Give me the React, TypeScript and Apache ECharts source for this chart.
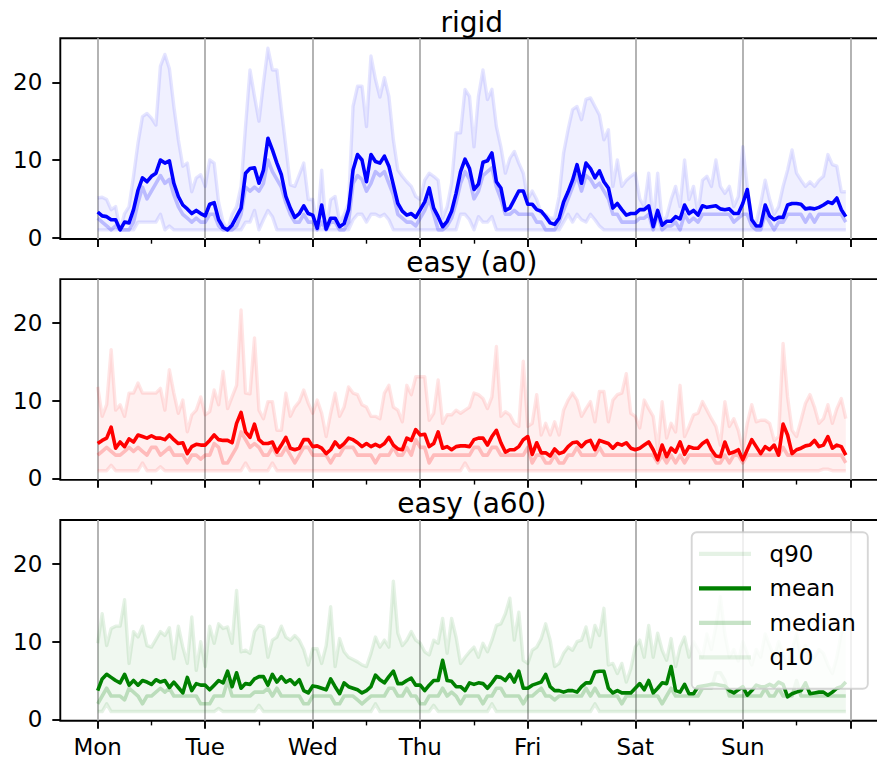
import React, { useEffect, useRef } from 'react';
import * as echarts from 'echarts';

const DAY_LABELS = ['Mon', 'Tue', 'Wed', 'Thu', 'Fri', 'Sat', 'Sun'];
const PANEL_TITLES = ['rigid', 'easy (a0)', 'easy (a60)'];
const LEGEND_NAMES = ['q90', 'mean', 'median', 'q10'];

// ---------- rigid (hourly, Mon 00:00 .. Sun 23:00) ----------
const RIGID_MEAN = [
  3.3, 2.8, 2.7, 2.3, 2.3, 1.0, 2.0, 1.9, 3.6, 6.1,
  7.7, 7.2, 7.9, 8.3, 10.0, 9.6, 9.9, 7.0, 5.3, 4.2,
  3.7, 3.1, 3.5, 3.1, 2.8, 4.3, 4.5, 2.3, 1.3, 1.0,
  1.6, 2.7, 3.8, 8.3, 8.9, 9.0, 7.0, 8.7, 12.8, 11.3,
  9.6, 8.1, 5.3, 3.8, 2.6, 3.1, 4.1, 3.1, 2.9, 1.2,
  4.2, 1.1, 2.5, 2.5, 1.4, 1.8, 3.6, 8.7, 10.7, 10.0,
  7.2, 10.7, 9.8, 9.6, 10.5, 9.2, 6.8, 4.4, 3.4, 2.9,
  3.1, 2.6, 3.6, 4.6, 6.4, 3.8, 2.7, 1.4, 2.1, 3.4,
  5.7, 8.5, 10.1, 8.9, 6.2, 6.9, 9.7, 9.9, 10.9, 7.2,
  6.4, 3.5, 3.8, 4.9, 6.0, 6.0, 4.3, 4.3, 3.6, 3.4,
  2.7, 1.9, 1.7, 2.5, 4.6, 5.9, 7.4, 9.4, 7.0, 9.6,
  8.9, 7.7, 8.6, 7.2, 6.4, 3.8, 4.4, 3.6, 2.9, 3.1,
  3.1, 3.6, 3.6, 4.1, 1.4, 3.5, 1.6, 2.1, 2.1, 2.7,
  2.4, 4.2, 3.1, 3.5, 2.9, 4.1, 3.9, 4.0, 4.1, 3.7,
  3.6, 3.7, 3.1, 3.1, 4.4, 6.2, 2.3, 1.5, 1.5, 4.2,
  2.8, 2.3, 2.6, 2.6, 4.2, 4.4, 4.4, 4.3, 3.7, 3.8,
  3.7, 3.9, 4.2, 4.6, 4.4, 5.1, 3.6, 2.7,
];
const RIGID_Q90 = [
  5.1, 5.2, 4.9, 3.6, 4.0, 1.0, 3.1, 4.0, 7.9, 12.2,
  15.6, 16.0, 15.4, 14.5, 22.1, 23.6, 21.8, 16.9, 12.6, 9.2,
  9.6, 5.9, 7.7, 8.1, 6.6, 10.0, 9.6, 4.5, 2.0, 1.0,
  3.0, 4.0, 6.6, 14.3, 21.6, 18.2, 15.0, 19.9, 24.4, 21.6,
  21.6, 16.5, 11.7, 6.8, 6.6, 8.1, 9.6, 4.9, 4.9, 1.5,
  8.7, 1.0, 4.9, 5.3, 2.0, 3.0, 4.4, 16.9, 19.5, 19.5,
  14.3, 23.4, 20.4, 18.1, 20.6, 18.2, 12.6, 8.7, 7.9, 7.2,
  6.6, 5.3, 4.9, 7.4, 8.3, 7.9, 7.4, 2.5, 4.0, 7.0,
  13.5, 13.5, 19.1, 18.2, 11.7, 18.2, 21.6, 17.8, 19.1, 14.3,
  11.7, 8.3, 10.2, 11.1, 9.6, 8.3, 4.9, 6.0, 4.9, 3.1,
  3.0, 2.5, 2.5, 5.3, 10.9, 13.9, 16.5, 16.9, 15.2, 17.8,
  18.0, 16.9, 15.8, 12.6, 13.9, 6.6, 10.0, 6.6, 7.4, 7.9,
  8.3, 5.0, 4.0, 8.3, 2.0, 8.3, 2.0, 2.7, 4.9, 6.6,
  4.0, 10.0, 4.9, 6.6, 3.1, 7.4, 7.9, 6.6, 10.0, 6.6,
  5.7, 6.6, 4.0, 5.3, 11.7, 6.6, 2.3, 2.0, 4.4, 7.4,
  4.9, 3.0, 4.0, 6.6, 8.7, 11.3, 8.3, 7.4, 6.6, 7.2,
  6.6, 7.4, 7.9, 10.7, 9.4, 9.2, 5.9, 5.9,
];
const RIGID_MEDIAN = [
  2.5, 2.0, 1.5, 1.0, 1.5, 1.0, 1.0, 1.0, 2.0, 4.5,
  6.5, 5.0, 6.0, 7.0, 8.0, 7.0, 7.5, 5.5, 4.0, 3.0,
  2.5, 2.0, 2.5, 2.0, 2.0, 3.0, 3.0, 1.5, 1.0, 1.0,
  1.0, 1.5, 3.0, 6.5, 6.0, 6.5, 6.0, 7.0, 10.0, 8.5,
  7.5, 6.5, 4.5, 3.0, 2.0, 2.0, 3.0, 2.0, 2.0, 1.0,
  2.0, 1.0, 2.0, 2.0, 1.0, 1.0, 2.0, 7.0, 8.0, 7.5,
  6.0, 7.0, 8.5, 8.0, 8.5, 7.0, 5.5, 3.0, 2.5, 2.0,
  2.0, 1.5, 2.5, 3.5, 5.0, 3.0, 1.0, 1.0, 1.5, 2.5,
  4.5, 7.0, 8.5, 7.5, 5.0, 6.0, 8.0, 8.5, 9.0, 6.5,
  5.0, 3.0, 3.0, 3.5, 3.0, 3.0, 3.0, 3.0, 2.0, 2.0,
  1.0, 1.0, 1.0, 2.0, 3.5, 5.0, 6.5, 8.0, 6.0, 8.0,
  7.5, 6.5, 7.0, 6.0, 5.0, 3.0, 3.0, 2.0, 2.0, 2.0,
  2.0, 2.5, 2.5, 3.0, 1.0, 3.0, 1.0, 1.5, 1.5, 2.0,
  1.0, 3.0, 2.0, 2.5, 2.0, 3.0, 3.0, 3.0, 3.0, 3.0,
  3.0, 3.0, 2.0, 2.5, 3.0, 3.0, 1.5, 1.0, 1.0, 3.0,
  2.0, 1.0, 2.0, 2.0, 3.0, 3.0, 3.0, 3.0, 2.0, 3.0,
  2.0, 3.0, 3.0, 3.0, 3.0, 3.0, 3.0, 2.0,
];
const RIGID_Q10 = [
  1, 1, 1, 1, 1, 1, 1, 1, 1, 2,
  2, 2, 2, 2, 3, 1, 1.5, 1, 1, 1,
  1, 1, 1, 1, 1, 1, 1, 1, 1, 1,
  1, 1, 1, 2, 2, 3.5, 1, 2.3, 3.5, 2.7,
  1, 1, 1, 1, 1, 1, 1, 1, 1, 1,
  1, 1, 1, 1, 1, 1, 1, 2.3, 3, 3,
  2, 3, 3, 2.7, 3, 2.3, 1, 1, 1, 1,
  1, 1, 1, 1, 1, 1, 1, 1, 1, 1,
  1, 3, 3, 2.3, 1, 2.7, 2, 2, 2.7, 1,
  1, 1, 1, 1, 1, 1, 1, 1, 1, 1,
  1, 1, 1, 1, 2, 3, 2, 3, 2.3, 2,
  3, 2.3, 1.5, 1, 1, 1, 1, 1, 1, 1,
  1, 1, 1, 1, 1, 1, 1, 1, 1, 1,
  1, 1, 1, 1, 1, 1, 1, 1, 1, 1,
  1, 1, 1, 1, 1, 1, 1, 1, 1, 1,
  1, 1, 1, 1, 1, 1, 1, 1, 1, 1,
  1, 1, 1, 1, 1, 1, 1, 1,
];

// ---------- easy (a0) ----------
const A0_MEAN = [
  4.5, 4.9, 5.2, 6.6, 3.9, 4.7, 4.1, 5.1, 4.7, 5.6,
  5.4, 5.2, 5.5, 5.2, 5.2, 5.0, 5.6, 5.0, 4.5, 4.6,
  3.2, 4.1, 4.4, 4.3, 4.3, 4.9, 5.6, 5.0, 4.9, 4.9,
  4.6, 7.1, 8.5, 6.0, 5.3, 7.0, 5.0, 4.5, 4.5, 4.7,
  3.4, 4.3, 5.3, 3.9, 3.7, 3.9, 5.0, 5.0, 4.1, 4.2,
  3.9, 3.2, 3.7, 4.7, 4.0, 4.5, 5.2, 5.0, 4.6, 4.1,
  4.5, 4.1, 4.4, 4.1, 4.5, 5.3, 4.3, 3.8, 3.7, 5.2,
  4.9, 6.3, 5.6, 5.7, 4.1, 4.5, 6.0, 3.9, 4.1, 3.7,
  4.1, 4.2, 4.2, 4.1, 5.0, 5.2, 5.2, 4.3, 5.4, 6.2,
  4.6, 3.4, 3.7, 3.7, 4.1, 5.0, 5.4, 3.1, 4.6, 3.3,
  3.3, 2.9, 3.8, 3.2, 3.4, 4.1, 4.6, 4.7, 4.1, 4.7,
  4.9, 3.7, 4.9, 4.7, 4.5, 3.9, 4.5, 4.3, 4.6, 3.9,
  3.7, 3.9, 4.3, 4.7, 3.7, 2.4, 4.3, 2.8, 3.9, 3.4,
  4.7, 3.1, 4.1, 3.9, 3.9, 4.5, 4.9, 3.7, 2.9, 2.8,
  4.7, 3.2, 3.4, 3.7, 2.4, 3.7, 5.0, 4.1, 3.2, 4.1,
  3.7, 4.3, 3.0, 7.0, 5.6, 3.2, 3.7, 3.9, 4.2, 4.3,
  4.9, 4.1, 4.3, 5.4, 3.9, 4.3, 4.1, 3.0,
];
const A0_Q90 = [
  11.8, 8.0, 9.5, 16.6, 8.8, 9.5, 8.0, 11.0, 11.0, 12.3,
  11.0, 11.0, 11.0, 11.0, 11.6, 8.8, 14.0, 11.0, 8.4, 10.1,
  6.0, 8.2, 8.8, 10.5, 8.2, 8.6, 11.4, 9.5, 13.8, 9.0,
  10.5, 12.0, 21.7, 11.0, 10.9, 18.1, 8.8, 7.7, 9.9, 9.9,
  6.2, 6.2, 11.0, 8.0, 9.2, 9.9, 11.4, 9.7, 8.4, 10.1,
  8.4, 5.4, 8.4, 11.0, 8.0, 9.2, 11.8, 11.0, 10.8, 9.5,
  9.2, 8.0, 8.0, 7.7, 11.0, 12.0, 9.2, 8.8, 7.3, 12.0,
  10.8, 13.1, 13.1, 13.1, 7.5, 8.4, 12.7, 7.1, 8.2, 8.2,
  8.8, 8.4, 8.8, 9.2, 11.0, 10.8, 10.3, 9.0, 10.5, 17.0,
  8.0, 8.6, 8.2, 7.1, 6.7, 15.1, 6.7, 7.1, 10.8, 5.6,
  7.1, 5.6, 7.3, 5.6, 8.8, 10.1, 11.0, 10.1, 8.0, 9.0,
  9.9, 7.3, 11.2, 11.2, 7.3, 10.1, 10.8, 11.0, 13.5, 8.4,
  8.0, 6.5, 10.1, 9.0, 8.0, 3.7, 9.9, 5.2, 7.1, 6.0,
  12.0, 5.4, 6.7, 8.2, 8.4, 9.9, 8.8, 7.7, 6.7, 4.3,
  9.9, 6.7, 7.7, 6.2, 3.7, 7.1, 9.5, 7.3, 7.5, 7.5,
  7.1, 4.9, 5.4, 17.4, 10.5, 6.2, 5.4, 7.5, 9.7, 10.8,
  9.2, 7.1, 7.7, 9.5, 7.1, 9.0, 10.3, 7.7,
];
const A0_MEDIAN = [
  3, 3.5, 4, 3.5, 3, 3, 3.5, 4, 3.5, 4,
  3.5, 3, 4, 4, 3, 3.5, 4, 3, 3, 3,
  2, 3, 3, 2.5, 3, 3, 4.5, 4, 2, 2,
  3, 4, 6, 5, 4, 4.5, 4, 3, 3, 4,
  3, 3, 4, 3, 2, 3, 4, 4, 3, 3,
  3, 3, 2, 3, 3, 4, 4, 4, 3, 3,
  3, 3, 2, 3, 3, 3, 4, 3, 3, 4,
  3, 5, 4, 4, 2, 3, 3, 3, 3, 3,
  3, 3, 3, 3, 4, 4, 3, 3, 4, 4,
  3, 3, 3, 3, 3, 3, 4, 2, 3, 3,
  2, 2, 3, 2, 2, 3, 3, 4, 3, 3,
  3, 3, 4, 3, 3, 3, 3, 3, 3, 3,
  3, 3, 3, 3, 3, 2, 3, 2, 3, 2,
  3, 2, 3, 3, 3, 3, 3, 3, 2, 2,
  3, 2, 3, 3, 2, 3, 3, 3, 3, 3,
  3, 3, 3, 4, 3, 3, 3, 3, 3, 3,
  3, 3, 3, 3, 3, 3, 3, 2,
];
const A0_Q10 = [
  1, 1, 1, 1.7, 1, 1, 1, 1, 1, 1,
  2, 1, 1, 1, 1.5, 1, 1, 1, 1, 1,
  1, 1, 1, 1, 1, 1, 1, 1, 1, 1,
  1, 1, 1, 2, 1, 1, 1, 1, 1, 2,
  1, 1, 1, 1, 1, 1, 1, 1, 1, 1,
  1, 1, 1, 1, 1, 1, 1, 1, 1, 1,
  1, 1, 1, 1, 1, 1, 1, 1, 1, 1,
  1, 1, 1, 1, 1, 1, 1, 1, 1, 1,
  1, 1, 2, 1, 1, 1, 1, 1, 1, 1,
  1, 1, 1, 1, 1, 1, 1, 1, 1, 1,
  1, 1, 1, 1, 1, 1, 1, 1, 1, 1,
  1, 1, 1, 1, 1, 1, 1, 1, 1, 1,
  1, 1, 1, 1, 1, 1, 1, 1, 1, 1,
  1, 1, 1, 1, 1, 1, 1, 1, 1, 1,
  1, 1, 1, 1, 1, 1, 1, 1, 1, 1,
  1, 1, 1, 1, 1, 1, 1, 1, 1, 1,
  1, 1, 1.2, 1.2, 1, 1, 1, 1,
];

// ---------- easy (a60) ----------
const A60_MEAN = [
  3.7, 5.2, 5.8, 5.4, 5.0, 4.7, 5.8, 4.4, 5.0, 4.4,
  5.0, 4.8, 4.5, 5.1, 4.8, 5.0, 4.1, 4.8, 4.1, 3.4,
  5.4, 3.7, 4.6, 4.4, 4.4, 3.8, 4.4, 5.0, 4.7, 6.2,
  4.2, 6.0, 4.0, 4.6, 4.5, 5.2, 5.5, 5.5, 4.4, 5.8,
  4.8, 5.5, 4.8, 5.1, 4.5, 5.1, 3.7, 3.4, 4.3, 4.2,
  4.0, 3.8, 5.2, 4.2, 3.3, 4.7, 4.2, 4.0, 3.8, 3.4,
  3.7, 4.2, 5.7, 5.1, 4.7, 5.5, 6.2, 4.6, 4.6, 5.0,
  5.3, 4.4, 4.4, 3.7, 4.4, 5.0, 5.0, 7.6, 5.0, 4.9,
  4.2, 4.2, 3.7, 4.7, 4.5, 4.7, 4.6, 4.0, 4.7, 5.5,
  5.4, 5.0, 5.8, 4.8, 6.2, 4.0, 4.0, 4.4, 4.6, 4.8,
  5.8, 4.2, 3.7, 3.7, 3.5, 3.7, 3.7, 3.5, 4.2, 4.7,
  4.7, 6.1, 6.2, 6.2, 4.0, 3.4, 3.7, 3.4, 3.4, 3.4,
  4.0, 4.6, 3.8, 5.0, 3.4, 4.0, 4.7, 4.6, 6.8, 3.7,
  3.5, 4.5, 3.3, 3.3, 4.2, 4.3, 4.4, 4.5, 4.5, 4.4,
  4.3, 3.7, 3.4, 3.8, 4.2, 3.1, 3.7, 4.4, 4.2, 4.2,
  4.5, 4.2, 4.8, 4.5, 2.9, 3.3, 3.5, 3.7, 4.7, 3.3,
  3.4, 3.5, 3.5, 3.1, 3.5, 4.0, 4.2, 4.8,
];
const A60_Q90 = [
  9.8, 13.6, 9.5, 11.7, 12.0, 12.0, 15.4, 7.2, 11.3, 10.6,
  12.0, 9.5, 9.3, 10.3, 11.3, 10.8, 11.8, 7.8, 12.0, 9.3,
  7.2, 13.2, 6.3, 10.0, 6.8, 12.0, 9.8, 12.3, 11.7, 11.9,
  9.8, 16.6, 8.7, 8.9, 8.5, 11.3, 12.1, 11.9, 8.0, 10.2,
  10.6, 12.0, 10.6, 10.2, 10.8, 10.2, 9.0, 7.0, 9.1, 9.1,
  7.2, 9.5, 14.5, 6.8, 10.4, 8.7, 8.0, 7.7, 7.4, 7.0,
  6.8, 8.5, 10.6, 9.3, 10.2, 9.3, 17.8, 11.1, 9.5, 10.2,
  11.3, 10.2, 9.8, 8.7, 8.3, 10.2, 9.8, 13.0, 8.5, 13.0,
  10.6, 7.2, 8.0, 8.7, 9.3, 8.0, 9.8, 8.7, 10.2, 12.1,
  12.3, 13.6, 15.6, 10.2, 13.8, 7.6, 7.2, 8.9, 9.3, 10.4,
  12.3, 10.2, 6.8, 7.2, 8.5, 9.3, 8.9, 10.0, 10.2, 11.9,
  9.3, 12.1, 10.8, 14.3, 7.0, 7.2, 5.9, 7.2, 4.8, 6.5,
  9.3, 10.2, 8.0, 12.1, 8.0, 11.1, 8.9, 7.6, 10.4, 6.8,
  9.3, 10.6, 8.0, 10.0, 9.0, 8.0, 11.0, 9.0, 12.0, 15.8,
  11.0, 8.0, 9.0, 7.5, 10.0, 8.5, 7.0, 9.0, 8.0, 11.0,
  9.5, 8.0, 10.0, 8.5, 7.0, 9.0, 11.0, 8.0, 9.5, 7.5,
  8.0, 9.0, 8.5, 7.0, 5.9, 8.0, 11.1, 12.3,
];
const A60_MEDIAN = [
  2, 3, 4, 3, 3, 3, 2.5, 4, 3.5, 3,
  2, 3, 3, 3.5, 4, 3.5, 4, 3, 3, 3,
  3, 3, 3, 2, 2, 2, 3, 3, 3, 5,
  3, 3, 3, 3, 3, 3.5, 3.5, 3.5, 4, 3,
  4, 3, 3, 3, 3, 3, 2, 2, 3, 3,
  3, 3, 3, 2, 2, 3, 3, 3, 2.5, 2,
  2.5, 3, 3, 3, 3, 4, 4, 3, 3, 4,
  3, 3, 2, 2, 3, 3, 3, 4, 3, 3.5,
  3, 2, 3, 3, 3, 3, 2, 3, 3, 4,
  4, 3, 3, 3, 3, 2, 3, 3, 3.5, 4,
  3, 3, 2.5, 3, 3, 3, 3, 3, 3, 4,
  3, 4, 3, 3, 3, 3, 3, 2, 3, 3,
  3, 3, 3, 3, 3, 3, 2, 3, 4, 3,
  3, 3, 3, 3, 3, 4, 4, 4, 6, 6,
  5, 3, 3, 3, 3, 3, 3, 3, 3, 4,
  3, 3, 4, 3, 3, 3, 5, 3, 3, 3,
  3, 3, 3, 3, 3, 3, 3, 3,
];
const A60_Q10 = [
  1, 1, 2, 1, 1, 1, 1, 1, 1, 1,
  1, 1, 1, 1, 1, 1, 1, 1, 1, 1,
  1, 1, 1, 1, 1, 1, 1, 1.4, 1, 1,
  1, 1, 1, 1, 1, 1, 1.8, 1, 1, 1,
  1, 1, 1, 1, 1, 1, 1, 1, 1, 1,
  1, 1, 1, 1, 1, 1, 1, 1, 1, 1,
  1, 1, 2, 1, 1, 1, 1, 1, 1, 1,
  1, 1, 1, 1, 1, 1.8, 1, 1, 1, 1,
  1, 1, 1, 1, 1, 1, 1, 1, 2, 1,
  1, 1, 1, 1, 1, 1, 1, 1, 1, 1,
  1, 1, 1, 1, 1, 1, 1, 1, 1, 1,
  1, 2, 1, 1, 1, 1, 1, 1, 1, 1,
  1, 1, 1, 1, 1, 1, 1, 1, 1, 1,
  1, 1, 1, 1, 1, 1, 1, 1, 1, 1,
  1, 1, 1, 1, 1, 1, 1, 1, 1, 1,
  1, 1, 1, 1, 1, 1, 1, 1, 1, 1,
  1, 1, 1, 1, 1, 1, 1, 1,
];

const FONT = 'DejaVu Sans';

const PANELS = [
  { rgb: '0,0,255', solid: '#0000ff', prefix: 'rigid ', q90: RIGID_Q90, mean: RIGID_MEAN, median: RIGID_MEDIAN, q10: RIGID_Q10 },
  { rgb: '255,0,0', solid: '#ff0000', prefix: 'a0 ', q90: A0_Q90, mean: A0_MEAN, median: A0_MEDIAN, q10: A0_Q10 },
  { rgb: '0,128,0', solid: '#008000', prefix: '', q90: A60_Q90, mean: A60_MEAN, median: A60_MEDIAN, q10: A60_Q10 },
];

// layout (pixels)
const AX_LEFT = 60.3;
const AX_WIDTH = 823;
const DATA_LEFT = 97.7;
const DATA_WIDTH = 752.6;
const PANEL_TOP0 = 38.3;
const PANEL_STEP = 240.85;
const PANEL_H = 200.7;
const Y_MIN = -0.18;
const Y_MAX = 25.68;

const pairs = (arr: number[]) => arr.map((v, i) => [i, v]);

function buildOption() {
  const grid: any[] = [];
  const xAxis: any[] = [];
  const yAxis: any[] = [];
  const series: any[] = [];
  const graphic: any[] = [];

  PANELS.forEach((p, k) => {
    const top = PANEL_TOP0 + PANEL_STEP * k;
    const yTop20 = top + ((Y_MAX - 20) / (Y_MAX - Y_MIN)) * PANEL_H;
    const h20 = (20 / (Y_MAX - Y_MIN)) * PANEL_H;
    grid.push({ left: AX_LEFT, width: AX_WIDTH, top, height: PANEL_H, show: true, borderColor: '#000', borderWidth: 1.9, backgroundColor: 'transparent', z: 0 });
    grid.push({ left: AX_LEFT, width: AX_WIDTH, top: yTop20, height: h20 });
    grid.push({ left: DATA_LEFT, width: DATA_WIDTH, top, height: PANEL_H });

    const gF = 3 * k, gY = 3 * k + 1, gD = 3 * k + 2;
    xAxis.push({ gridIndex: gF, type: 'value', show: false, min: 0, max: 1, axisLine: { onZero: false } });
    yAxis.push({ gridIndex: gF, type: 'value', show: false, min: 0, max: 1, axisLine: { onZero: false } });

    xAxis.push({ gridIndex: gY, type: 'value', show: false, min: 0, max: 1, axisLine: { onZero: false } });
    yAxis.push({
      gridIndex: gY, type: 'value', min: 0, max: 20, interval: 10,
      axisLine: { show: false, onZero: false },
      axisTick: { show: true, length: 8, lineStyle: { color: '#000', width: 1.9 } },
      axisLabel: { show: true, color: '#000', fontSize: 23, fontFamily: FONT, margin: 18 },
      splitLine: { show: false },
    });

    xAxis.push({
      gridIndex: gD, type: 'value', min: 0, max: 168, interval: 24,
      axisLine: { show: false, onZero: false },
      axisTick: { show: true, length: 8, lineStyle: { color: '#000', width: 1.9 } },
      minorTick: { show: true, splitNumber: 2, length: 4.7, lineStyle: { color: '#000', width: 1.4 } },
      splitLine: { show: true, lineStyle: { color: '#b0b0b0', width: 1.9 } },
      minorSplitLine: { show: false },
      axisLabel: {
        show: k === 2, color: '#000', fontSize: 23, fontFamily: FONT, margin: 15,
        showMinLabel: true, showMaxLabel: true,
        formatter: (v: number) => DAY_LABELS[Math.round(v / 24)] ?? '',
      },
    });
    yAxis.push({ gridIndex: gD, type: 'value', min: Y_MIN, max: Y_MAX, show: false, axisLine: { onZero: false } });

    const common = { type: 'line', xAxisIndex: gD, yAxisIndex: gD, symbol: 'none', silent: true, emphasis: { disabled: true }, animation: false };

    // q10–q90 band drawn as one polygon through the axis scales
    const fill = `rgba(${p.rgb},0.06)`;
    const q90 = p.q90;
    const q10 = p.q10;
    series.push({
      type: 'custom', name: p.prefix + 'band', xAxisIndex: gD, yAxisIndex: gD, silent: true, z: 1,
      data: [[0, 0]],
      renderItem: (_params: any, api: any) => {
        const pts: number[][] = [];
        for (let i = 0; i < q90.length; i++) pts.push(api.coord([i, q90[i]]));
        for (let i = q10.length - 1; i >= 0; i--) pts.push(api.coord([i, q10[i]]));
        return { type: 'polygon', shape: { points: pts }, style: { fill, stroke: null, lineWidth: 0 } };
      },
    });

    const lineJoin = { join: 'round', cap: 'butt' };
    series.push({ ...common, name: p.prefix + 'q90', data: pairs(p.q90), color: `rgba(${p.rgb},0.1)`, lineStyle: { color: `rgba(${p.rgb},0.1)`, width: 3.4, ...lineJoin }, z: 2 });
    series.push({ ...common, name: p.prefix + 'q10', data: pairs(p.q10), color: `rgba(${p.rgb},0.1)`, lineStyle: { color: `rgba(${p.rgb},0.1)`, width: 3.4, ...lineJoin }, z: 2 });
    series.push({ ...common, name: p.prefix + 'median', data: pairs(p.median), color: `rgba(${p.rgb},0.22)`, lineStyle: { color: `rgba(${p.rgb},0.22)`, width: 3.6, ...lineJoin }, z: 2 });
    series.push({ ...common, name: p.prefix + 'mean', data: pairs(p.mean), color: p.solid, lineStyle: { color: p.solid, width: 3.6, ...lineJoin }, z: 3 });

    graphic.push({
      type: 'text', x: AX_LEFT + AX_WIDTH / 2, y: top - 16.3,
      style: { text: PANEL_TITLES[k], fontSize: 28, fontFamily: FONT, fill: '#000', align: 'center', verticalAlign: 'middle', textAlign: 'center', textVerticalAlign: 'middle' },
      z: 10,
    });
  });

  const legendColors = ['rgba(0,128,0,0.1)', '#008000', 'rgba(0,128,0,0.22)', 'rgba(0,128,0,0.1)'];

  return {
    animation: false,
    backgroundColor: '#ffffff',
    grid,
    xAxis,
    yAxis,
    series,
    graphic,
    legend: {
      show: true,
      orient: 'vertical',
      left: 691.7,
      top: 532.3,
      itemWidth: 52,
      itemHeight: 4.2,
      itemGap: 11.5,
      padding: [10, 12, 20, 7.3],
      selectedMode: false,
      backgroundColor: 'rgba(255,255,255,0.8)',
      borderColor: 'rgba(204,204,204,0.8)',
      borderWidth: 1.9,
      borderRadius: 5,
      textStyle: { fontSize: 23, fontFamily: FONT, color: '#000', padding: [0, 0, 0, 13.6] },
      data: LEGEND_NAMES.map((n, i) => ({ name: n, icon: 'rect', itemStyle: { color: legendColors[i], borderWidth: 0 } })),
      z: 20,
    },
  };
}

export default function App() {
  const ref = useRef<HTMLDivElement>(null);
  useEffect(() => {
    document.body.style.margin = '0';
    const chart = echarts.init(ref.current as HTMLDivElement, undefined, { renderer: 'svg' });
    chart.setOption(buildOption() as any);
    return () => chart.dispose();
  }, []);
  return (
    <div style={{ position: 'fixed', left: 0, top: 0, width: 877, height: 763, overflow: 'hidden', background: '#fff' }}>
      <div ref={ref} style={{ width: 900, height: 763 }} />
    </div>
  );
}
